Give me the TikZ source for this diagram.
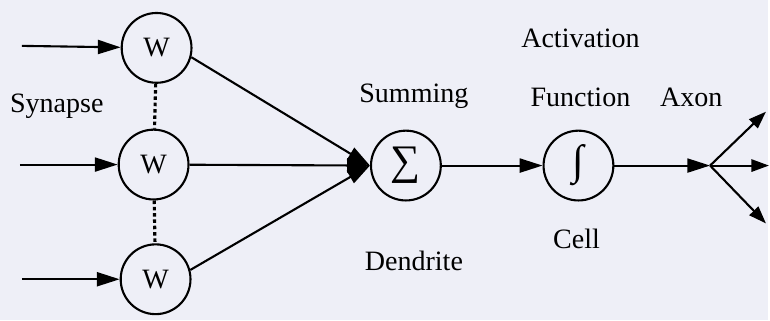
\documentclass[tikz,border=0pt]{standalone}
\usepackage{fontspec}
\setmainfont{Liberation Serif}
\usetikzlibrary{arrows.meta}
\definecolor{bgpaper}{RGB}{238,239,247}

\begin{document}
\begin{tikzpicture}[
    x=0.02cm, y=-0.02cm,
    neuron/.style={circle, draw=black, line width=1.2pt, minimum size=1.4cm, inner sep=0pt, font=\fontsize{16}{19}\selectfont},
    tag/.style={font=\fontsize{16}{19}\selectfont, inner sep=0pt},
    wire/.style={line width=1.2pt},
    arrow/.style={-{Triangle[length=13pt,width=8pt]}, line width=1.2pt},
    branch/.style={-{Triangle[length=10pt,width=7pt]}, line width=1.2pt},
    dots/.style={line width=1.8pt, dash pattern=on 2pt off 1.6pt}
]
    \fill [bgpaper] (0,0) rectangle (770,321);

    % synapse weights
    \node [neuron] (w1) at (157,48) {W};
    \node [neuron] (w2) at (154,165) {W};
    \node [neuron] (w3) at (156,280) {W};
    \coordinate (in1) at (22,46);
    \coordinate (in2) at (20,165);
    \coordinate (in3) at (22,280);

    % summing and activation
    \node [neuron, font=\fontsize{24}{28}\selectfont] (sum) at (407,166) {∑};
    \node [neuron, font=\fontsize{24}{28}\selectfont] (act) at (580,166) {∫};
    \coordinate (axon) at (712,166);
    \coordinate (out1) at (768,112);
    \coordinate (out2) at (771,166);
    \coordinate (out3) at (768,224);

    % labels
    \node [tag] (synapse) at (57,107) {Synapse};
    \node [tag] (summing) at (415,97) {Summing};
    \node [tag] (dendrite) at (415,262) {Dendrite};
    \node [tag] (activation) at (582,38) {Activation};
    \node [tag] (function) at (582,98) {Function};
    \node [tag] (axonlbl) at (693,98) {Axon};
    \node [tag] (cell) at (578,240) {Cell};

    \draw [arrow] (in1) -- (w1);
    \draw [arrow] (in2) -- (w2);
    \draw [arrow] (in3) -- (w3);
    \draw [dots] (w1) -- (w2);
    \draw [dots] (w2) -- (w3);

    \draw [arrow] (w1.-15) -- (sum.west);
    \draw [arrow] (w2) -- (sum.west);
    \draw [arrow] (w3.15) -- (sum.west);
    \draw [arrow] (sum) -- (act);
    \draw [arrow] (act) -- (axon);
    \draw [branch] (axon) -- (out1);
    \draw [branch] (axon) -- (out2);
    \draw [branch] (axon) -- (out3);
\end{tikzpicture}
\end{document}
